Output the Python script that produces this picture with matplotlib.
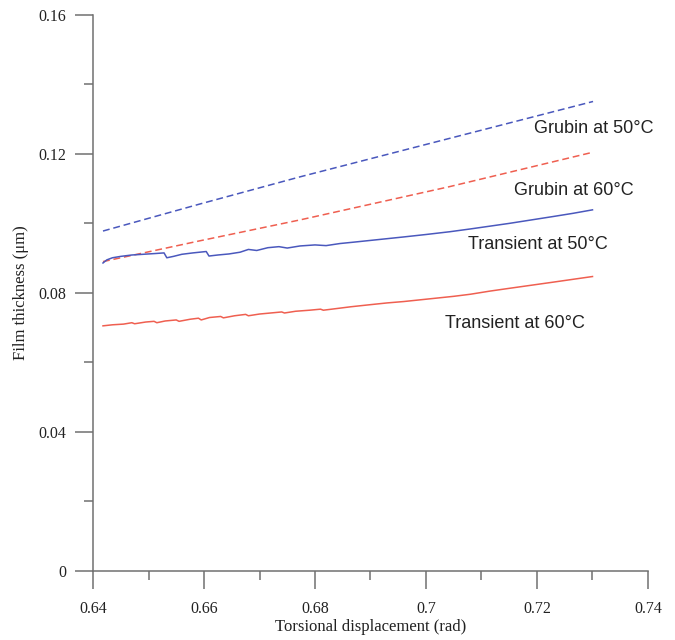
import matplotlib
matplotlib.use("Agg")
import matplotlib.pyplot as plt
from matplotlib.ticker import FixedLocator, FixedFormatter

# ---- data ----
grubin50_x = [0.6418, 0.6593, 0.6773, 0.7043, 0.7301]
grubin50_y = [0.0978, 0.1056, 0.1134, 0.1245, 0.1351]

grubin60_x = [0.6418, 0.6593, 0.6773, 0.7043, 0.7301]
grubin60_y = [0.0890, 0.0950, 0.1010, 0.1106, 0.1205]

trans50_x = [0.6418, 0.6425, 0.6435, 0.6450, 0.6470, 0.6490, 0.6510, 0.6528,
             0.6533, 0.6545, 0.6560, 0.6580, 0.6604, 0.6609, 0.6625, 0.6645,
             0.6665, 0.6680, 0.6695, 0.6715, 0.6735, 0.6750, 0.6773, 0.6800,
             0.6820, 0.6845, 0.6870, 0.6900, 0.6930, 0.6960, 0.7000, 0.7043,
             0.7080, 0.7115, 0.7150, 0.7190, 0.7230, 0.7265, 0.7300]
trans50_y = [0.0886, 0.0895, 0.0901, 0.0905, 0.0909, 0.0911, 0.0913, 0.0915,
             0.0901, 0.0905, 0.0911, 0.0915, 0.0919, 0.0906, 0.0909, 0.0912,
             0.0917, 0.0925, 0.0922, 0.0930, 0.0933, 0.0929, 0.0935, 0.0938,
             0.0936, 0.0942, 0.0946, 0.0951, 0.0956, 0.0961, 0.0968, 0.0976,
             0.0984, 0.0992, 0.1000, 0.1010, 0.1020, 0.1029, 0.1039]

trans60_x = [0.6418, 0.6435, 0.6455, 0.6470, 0.6475, 0.6495, 0.6510, 0.6515,
             0.6530, 0.6550, 0.6555, 0.6575, 0.6590, 0.6595, 0.6610, 0.6630,
             0.6635, 0.6655, 0.6675, 0.6680, 0.6700, 0.6720, 0.6740, 0.6745,
             0.6765, 0.6790, 0.6810, 0.6815, 0.6840, 0.6865, 0.6900, 0.6930,
             0.6960, 0.6990, 0.7020, 0.7050, 0.7080, 0.7115, 0.7150, 0.7190,
             0.7230, 0.7265, 0.7300]
trans60_y = [0.0705, 0.0708, 0.0710, 0.0714, 0.0711, 0.0716, 0.0718, 0.0714,
             0.0719, 0.0722, 0.0718, 0.0724, 0.0727, 0.0722, 0.0729, 0.0732,
             0.0728, 0.0734, 0.0738, 0.0734, 0.0739, 0.0742, 0.0745, 0.0742,
             0.0747, 0.0750, 0.0753, 0.0750, 0.0755, 0.0760, 0.0766, 0.0771,
             0.0775, 0.0780, 0.0785, 0.0790, 0.0796, 0.0805, 0.0813, 0.0822,
             0.0831, 0.0839, 0.0847]

labels = ["Grubin at 50\u00b0C", "Grubin at 60\u00b0C",
          "Transient at 50\u00b0C", "Transient at 60\u00b0C"]
label_x = [0.7195, 0.7159, 0.7076, 0.7034]
label_y = [0.1272, 0.1096, 0.0938, 0.0713]

xticks = [0.64, 0.66, 0.68, 0.70, 0.72, 0.74]
xticklabels = ["0.64", "0.66", "0.68", "0.7", "0.72", "0.74"]
xminor = [0.65, 0.67, 0.69, 0.71, 0.73]
yticks = [0.0, 0.04, 0.08, 0.12, 0.16]
yticklabels = ["0", "0.04", "0.08", "0.12", "0.16"]
yminor = [0.02, 0.06, 0.10, 0.14]

# ---- figure ----
BLUE = "#4a58bd"
RED = "#ef5f50"
AXC = "#707070"
SERIF = ["Liberation Serif", "DejaVu Serif"]
SANS = ["Liberation Sans", "DejaVu Sans"]

fig = plt.figure(figsize=(6.75, 6.4), dpi=100)
ax = fig.add_axes([93 / 675, 1 - 570.7 / 640, (648 - 93) / 675, (570.7 - 15) / 640])

ax.plot(grubin50_x, grubin50_y, color=BLUE, lw=1.1, dashes=(4.5, 2.5))
ax.plot(grubin60_x, grubin60_y, color=RED, lw=1.1, dashes=(4.5, 2.5))
ax.plot(trans50_x, trans50_y, color=BLUE, lw=1.1)
ax.plot(trans60_x, trans60_y, color=RED, lw=1.1)

for t, lx, ly in zip(labels, label_x, label_y):
    ax.text(lx, ly, t, ha="left", va="center", fontsize=13,
            family=SANS, color="#222222")

ax.set_xlim(0.64, 0.74)
ax.set_ylim(0, 0.16)
ax.xaxis.set_major_locator(FixedLocator(xticks))
ax.xaxis.set_major_formatter(FixedFormatter(xticklabels))
ax.xaxis.set_minor_locator(FixedLocator(xminor))
ax.yaxis.set_major_locator(FixedLocator(yticks))
ax.yaxis.set_major_formatter(FixedFormatter(yticklabels))
ax.yaxis.set_minor_locator(FixedLocator(yminor))

for s in ["top", "right"]:
    ax.spines[s].set_visible(False)
for s in ["left", "bottom"]:
    ax.spines[s].set_color(AXC)
    ax.spines[s].set_linewidth(1.1)

ax.tick_params(axis="both", which="major", direction="out", length=12.7,
               width=1.1, color=AXC)
ax.tick_params(axis="both", which="minor", direction="out", length=6.8,
               width=1.1, color=AXC)
ax.tick_params(axis="x", which="major", pad=9)
ax.tick_params(axis="y", which="major", pad=6.5)
for lab in ax.get_xticklabels() + ax.get_yticklabels():
    lab.set_family(SERIF)
    lab.set_fontsize(11.5)
    lab.set_color("#222222")

ax.set_xlabel("Torsional displacement (rad)", family=SERIF, fontsize=12,
              color="#222222", labelpad=1.5)
ax.set_ylabel("Film thickness (\u03bcm)", family=SERIF, fontsize=12,
              color="#222222", labelpad=7)

fig.savefig("out.png", dpi=100)
